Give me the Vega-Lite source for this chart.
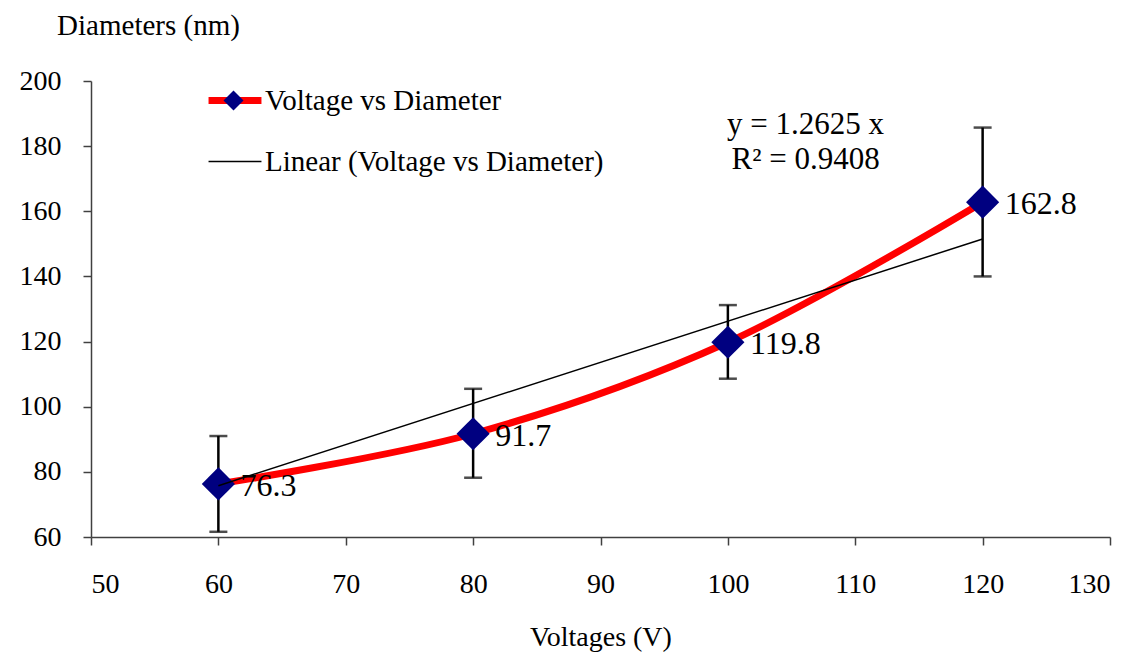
{
  "$schema": "https://vega.github.io/schema/vega-lite/v6.json",
  "width": 1019,
  "height": 456,
  "autosize": {"type": "none"},
  "padding": {"left": 91, "top": 81, "right": 32, "bottom": 117},
  "background": "white",
  "config": {
    "view": {"stroke": null},
    "font": "Liberation Serif",
    "axis": {"grid": false, "domainColor": "#404040", "tickColor": "#404040", "domainWidth": 1.5, "tickWidth": 1.5, "tickSize": 8, "labelFont": "Liberation Serif", "titleFont": "Liberation Serif", "labelFontSize": 28, "titleFontSize": 28, "labelColor": "black", "titleColor": "black", "titleFontWeight": "normal"},
    "legend": {"labelFont": "Liberation Serif", "labelFontSize": 29, "labelColor": "black", "padding": 0, "labelLimit": 0}
  },
  "datasets": {
    "pts": [
      {"V": 60, "D": 76.3, "lo": 61.6, "hi": 91.0, "series": "Voltage vs Diameter"},
      {"V": 80, "D": 91.7, "lo": 78.2, "hi": 105.5, "series": "Voltage vs Diameter"},
      {"V": 100, "D": 119.8, "lo": 108.6, "hi": 131.2, "series": "Voltage vs Diameter"},
      {"V": 120, "D": 162.8, "lo": 140.0, "hi": 185.7, "series": "Voltage vs Diameter"}
    ],
    "trend": [
      {"V": 60, "D": 75.75, "series": "Linear (Voltage vs Diameter)"},
      {"V": 120, "D": 151.5, "series": "Linear (Voltage vs Diameter)"}
    ],
    "notes": [
      {"V": 106.1, "D": 186.5, "label": "y = 1.2625 x"},
      {"V": 106.1, "D": 175.7, "label": "R² = 0.9408"}
    ]
  },
  "encoding": {
    "x": {"field": "V", "type": "quantitative", "scale": {"domain": [50, 130], "nice": false, "zero": false}, "axis": {"values": [50, 60, 70, 80, 90, 100, 110, 120, 130], "title": "Voltages (V)", "labelPadding": 25, "titlePadding": 25}},
    "y": {"field": "D", "type": "quantitative", "scale": {"domain": [60, 200], "nice": false, "zero": false}, "axis": {"values": [60, 80, 100, 120, 140, 160, 180, 200], "title": "Diameters (nm)", "titleAngle": 0, "titleX": 57, "titleY": -56, "titleAlign": "center", "titleBaseline": "middle", "titleFontSize": 29, "labelPadding": 22}}
  },
  "layer": [
    {
      "data": {"name": "pts"},
      "mark": {"type": "line", "interpolate": "catmull-rom", "strokeWidth": 7, "strokeCap": "round"},
      "encoding": {
        "color": {"field": "series", "type": "nominal", "scale": {"domain": ["Voltage vs Diameter", "Linear (Voltage vs Diameter)"], "range": ["#ff0000", "#000000"]},
          "legend": {"title": null, "orient": "none", "legendX": 129.5, "legendY": 5, "symbolType": "stroke", "symbolSize": 2800, "symbolStrokeWidth": 7, "labelOffset": 15.5, "rowPadding": 31,
            "encode": {"symbols": {"update": {"strokeWidth": {"signal": "datum.value === 'Voltage vs Diameter' ? 7 : 1.5"}}}}}}
      }
    },
    {
      "data": {"name": "pts"},
      "mark": {"type": "rule", "color": "black", "strokeWidth": 2.5},
      "encoding": {"y": {"field": "lo", "type": "quantitative"}, "y2": {"field": "hi"}}
    },
    {
      "data": {"name": "pts"},
      "mark": {"type": "tick", "orient": "horizontal", "color": "black", "thickness": 2.5, "size": 18},
      "encoding": {"y": {"field": "lo", "type": "quantitative"}}
    },
    {
      "data": {"name": "pts"},
      "mark": {"type": "tick", "orient": "horizontal", "color": "black", "thickness": 2.5, "size": 18},
      "encoding": {"y": {"field": "hi", "type": "quantitative"}}
    },
    {
      "data": {"name": "pts"},
      "mark": {"type": "point", "filled": true, "color": "#000080", "opacity": 1, "size": 1100},
      "encoding": {
        "shape": {"field": "series", "type": "nominal", "scale": {"domain": ["Voltage vs Diameter"], "range": ["diamond"]},
          "legend": {"title": null, "orient": "none", "legendX": 128, "legendY": 5, "symbolSize": 400, "symbolFillColor": "#000080", "symbolStrokeWidth": 0, "symbolOpacity": 1, "labelExpr": "''"}}
      }
    },
    {
      "data": {"name": "trend"},
      "mark": {"type": "line", "strokeWidth": 1.5},
      "encoding": {
        "color": {"field": "series", "type": "nominal"}
      }
    },
    {
      "data": {"name": "pts"},
      "mark": {"type": "text", "align": "left", "baseline": "middle", "dx": 22, "dy": 2, "fontSize": 32, "font": "Liberation Serif", "color": "black"},
      "encoding": {"text": {"field": "D", "type": "quantitative", "format": ".1f"}}
    },
    {
      "data": {"name": "notes"},
      "mark": {"type": "text", "align": "center", "baseline": "middle", "fontSize": 31, "font": "Liberation Serif", "color": "black"},
      "encoding": {"text": {"field": "label", "type": "nominal"}}
    }
  ]
}
